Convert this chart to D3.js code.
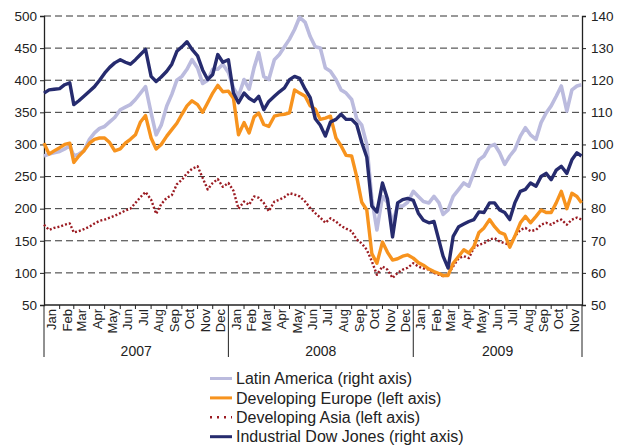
<!DOCTYPE html>
<html>
<head>
<meta charset="utf-8">
<script src="https://cdn.jsdelivr.net/npm/d3@7"></script>
<style>
  body { margin: 0; background: #fff; }
  svg { display: block; font-family: "Liberation Sans", Arial, sans-serif; }
</style>
</head>
<body>
<svg id="chart" width="619" height="445"></svg>
<script>
// sampled on the 1st, 11th and 21st of each month, Jan 2007 - Nov 2009, plus 30 Nov 2009
var sampleDays = [1, 11, 21];

// right axis
var latinAmerica = [
  96.4, 97, 97.4, 97.8, 98.6, 99.6, 96.4, 97, 98, 101.6, 103.6, 105,
  105.6, 107, 108.4, 110.8, 111.6, 112.4, 114, 116, 118, 109.8, 103, 106,
  112, 115.6, 120, 121.2, 123.4, 126.4, 123.8, 119, 120, 123.4, 123.4, 125,
  122.4, 117.6, 115, 120.2, 117.2, 124, 128.6, 121.2, 120.2, 126.4, 128, 130.4,
  132.8, 135.8, 139.6, 138, 133.6, 130.4, 130, 123.8, 122.8, 120.2, 117, 116,
  114, 108, 106, 100, 83, 73.4, 83.8, 82, 75.6, 80.8, 80.8, 82,
  85.4, 83.8, 82.2, 81.8, 83.8, 81.8, 78.2, 79.6, 83.8, 86, 88, 87,
  91.2, 95.2, 96.4, 99.4, 100, 97.4, 93.8, 96.4, 98.4, 102.6, 105.2, 103,
  101.6, 106.8, 109.8, 112, 115, 118.2, 110.4, 117, 118.2, 118.6
];
// left axis
var developingEurope = [
  302, 285, 290, 295, 300, 302, 272, 282, 290, 302, 308, 310,
  310, 303, 290, 293, 302, 308, 315, 335, 345, 310, 293, 300,
  313, 323, 333, 347, 360, 368, 362, 350, 365, 380, 392, 382,
  383, 372, 315, 334, 318, 343, 349, 331, 328, 344, 346, 347,
  349, 385, 380, 375, 360, 355, 339, 341, 344, 310, 298, 283,
  282, 250, 210, 198, 130, 115, 148, 132, 120, 122, 126, 128,
  123, 116, 112, 106, 102, 99, 96, 96, 115, 126, 136, 131,
  141, 163, 170, 183, 172, 163, 160, 140, 157, 178, 188, 178,
  188, 198, 194, 194, 209, 227, 200, 224, 219, 209
];
// left axis
var developingAsia = [
  175, 167, 170, 172, 175, 177, 163, 165, 168, 172, 177, 181,
  183, 186, 189, 193, 197, 200, 209, 218, 226, 214, 192, 207,
  217, 221, 238, 245, 255, 262, 266, 248, 230, 240, 246, 234,
  240, 228, 200, 211, 206, 219, 217, 209, 196, 211, 214, 218,
  224, 222, 219, 211, 201, 193, 186, 178, 185, 180, 173, 169,
  165, 152, 146, 136, 118, 97, 110, 105, 92, 100, 105, 108,
  115, 110, 107, 105, 100, 97, 95, 98, 110, 123, 126, 123,
  139, 144, 146, 152, 154, 149, 146, 144, 157, 167, 170, 165,
  167, 175, 178, 175, 180, 183, 175, 183, 186, 183
];
// right axis
var dowJones = [
  116, 117, 117.2, 117.4, 118.6, 119.2, 112.4, 113.6, 115, 116.6, 118, 120,
  122.2, 124, 125.4, 126.4, 125.6, 125, 126.4, 128, 129.6, 121.2, 119.6, 121,
  122.8, 125, 129, 130.4, 132, 129.6, 127.6, 123.2, 120.2, 121.8, 128, 125.6,
  126.4, 116, 113, 116, 114.4, 113.4, 115, 110.8, 113.4, 115, 116.4, 117.6,
  120.2, 121.2, 120.6, 117.2, 114.6, 108, 106, 102.6, 107, 107.8, 109.4, 107.8,
  107.8, 106.2, 100.6, 96, 80.8, 79, 88, 83, 71.2, 81.8, 82.8, 83.2,
  82.6, 78.6, 76.4, 75.6, 76, 70, 65.2, 61.5, 71.4, 74.4, 75.2, 76,
  76.6, 79, 78.8, 81.8, 81.8, 79.6, 78.8, 76.6, 81.8, 85.4, 86, 88,
  87, 90, 91, 89, 92, 93.2, 91, 95.2, 97.4, 96.4
];

var monthNames = ['Jan','Feb','Mar','Apr','May','Jun','Jul','Aug','Sep','Oct','Nov','Dec'];
var years = [2007, 2008, 2009];
var leftTicks = [50, 100, 150, 200, 250, 300, 350, 400, 450, 500];
var rightTicks = [50, 60, 70, 80, 90, 100, 110, 120, 130, 140];

var seriesNames = ['Latin America (right axis)', 'Developing Europe (left axis)',
                   'Developing Asia (left axis)', 'Industrial Dow Jones (right axis)'];

(function() {
  // build the dates
  var dates = [];
  for (var m = 0; m < 35; m++) {
    sampleDays.forEach(function(d) { dates.push(new Date(2007, m, d)); });
  }
  dates.push(new Date(2009, 10, 30));

  var svg = d3.select('#chart');
  var pl = 44, pr = 582, pt = 16, pb = 305;

  var x = d3.scaleTime().domain([new Date(2007, 0, 1), new Date(2009, 11, 1)]).range([pl, pr]);
  var yL = d3.scaleLinear().domain([50, 500]).range([pb, pt]);
  var yR = d3.scaleLinear().domain([50, 140]).range([pb, pt]);

  // grid
  svg.append('g').selectAll('line').data(leftTicks.slice(1)).enter().append('line')
    .attr('x1', pl).attr('x2', pr)
    .attr('y1', function(d) { return yL(d); }).attr('y2', function(d) { return yL(d); })
    .attr('stroke', '#333').attr('stroke-width', 1).attr('stroke-dasharray', '7,4');

  // axes
  var axL = svg.append('g').attr('transform', 'translate(' + pl + ',0)')
    .call(d3.axisLeft(yL).tickValues(leftTicks).tickSize(4).tickPadding(3));
  var axR = svg.append('g').attr('transform', 'translate(' + pr + ',0)')
    .call(d3.axisRight(yR).tickValues(rightTicks).tickSize(4).tickPadding(5));
  [axL, axR].forEach(function(a) {
    a.select('.domain').attr('stroke', '#222').attr('stroke-width', 1.3);
    a.selectAll('.tick line').attr('stroke', '#222');
    a.selectAll('text').attr('font-size', 13.5).attr('fill', '#222')
      .attr('font-family', '"Liberation Sans", Arial, sans-serif');
  });

  // bottom axis
  var monthStarts = d3.timeMonth.range(new Date(2007, 0, 1), new Date(2009, 11, 2));
  var xg = svg.append('g');
  xg.append('line').attr('x1', pl).attr('x2', pr).attr('y1', pb).attr('y2', pb)
    .attr('stroke', '#222').attr('stroke-width', 1.3);
  xg.selectAll('.mt').data(monthStarts).enter().append('line')
    .attr('x1', function(d) { return x(d); }).attr('x2', function(d) { return x(d); })
    .attr('y1', pb).attr('y2', function(d) {
      return (d.getMonth() === 0 || d >= new Date(2009, 11, 1)) ? 357 : pb + 4;
    })
    .attr('stroke', '#222').attr('stroke-width', 1);
  xg.selectAll('.ml').data(monthStarts.slice(0, 35)).enter().append('text')
    .attr('transform', function(d) {
      var mid = x(new Date(d.getFullYear(), d.getMonth(), 16));
      return 'translate(' + mid + ',' + (pb + 4) + ') rotate(-90)';
    })
    .attr('dy', '0.35em').attr('text-anchor', 'end').attr('font-size', 13).attr('fill', '#222')
    .text(function(d) { return monthNames[d.getMonth()]; });
  xg.selectAll('.yl').data(years).enter().append('text')
    .attr('x', function(y) {
      var end = y === 2009 ? new Date(2009, 11, 1) : new Date(y + 1, 0, 1);
      return (x(new Date(y, 0, 1)) + x(end)) / 2;
    })
    .attr('y', 356).attr('text-anchor', 'middle').attr('font-size', 14).attr('fill', '#222')
    .text(function(y) { return y; });

  // lines
  function lineFor(scale) {
    return d3.line().x(function(d, i) { return x(dates[i]); }).y(function(d) { return scale(d); });
  }
  var styles = [
    { data: latinAmerica, scale: yR, color: '#bbbbde', width: 3.6, dash: null },
    { data: developingAsia, scale: yL, color: '#9b1b22', width: 2.4, dash: '2,2' },
    { data: developingEurope, scale: yL, color: '#f7931e', width: 3.4, dash: null },
    { data: dowJones, scale: yR, color: '#262b6e', width: 3.4, dash: null }
  ];
  styles.forEach(function(s) {
    svg.append('path').datum(s.data)
      .attr('d', lineFor(s.scale))
      .attr('fill', 'none').attr('stroke', s.color).attr('stroke-width', s.width)
      .attr('stroke-linejoin', 'round')
      .attr('stroke-dasharray', s.dash);
  });

  // legend
  var legendColors = ['#bbbbde', '#f7931e', '#9b1b22', '#262b6e'];
  var lg = svg.append('g');
  seriesNames.forEach(function(name, i) {
    var yy = 378.5 + i * 19.4;
    lg.append('line').attr('x1', 210).attr('x2', 232).attr('y1', yy).attr('y2', yy)
      .attr('stroke', legendColors[i]).attr('stroke-width', i === 2 ? 2.4 : 3)
      .attr('stroke-dasharray', i === 2 ? '2,5' : null);
    lg.append('text').attr('x', 236).attr('y', yy).attr('dy', '0.35em')
      .attr('font-size', 16).attr('fill', '#222').text(name);
  });
})();
</script>
</body>
</html>
